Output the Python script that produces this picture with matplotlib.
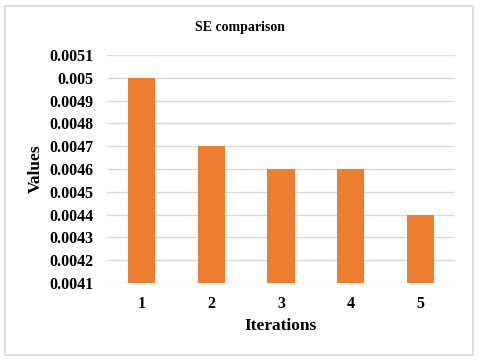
import matplotlib
matplotlib.use("Agg")
import matplotlib.pyplot as plt
from matplotlib.patches import Rectangle
import numpy as np

# data
iterations = ["1", "2", "3", "4", "5"]
se_values = [0.0050, 0.0047, 0.0046, 0.0046, 0.0044]
y_ticks = [0.0041, 0.0042, 0.0043, 0.0044, 0.0045, 0.0046,
           0.0047, 0.0048, 0.0049, 0.005, 0.0051]

plt.rcParams['font.family'] = ['Liberation Serif', 'DejaVu Serif']
plt.rcParams['font.weight'] = 'bold'

fig = plt.figure(figsize=(4.8, 3.61), dpi=100)
ax = fig.add_axes([0.223, 0.216, 0.725, 0.632])

# outer border
fig.patches.append(Rectangle((5 / 480, 6 / 361), 468 / 480, 349 / 361,
                             transform=fig.transFigure, fill=False,
                             edgecolor="#d9d9d9", linewidth=1.2))

x = np.arange(len(iterations))
ax.bar(x, se_values, width=0.39, color="#ED7D31", zorder=3)

ax.set_ylim(0.0041, 0.0051)
ax.set_xlim(-0.5, len(iterations) - 0.5)
ax.set_yticks(y_ticks)
ax.set_yticklabels([f"{v:g}" for v in y_ticks])
ax.set_xticks(x)
ax.set_xticklabels(iterations)
ax.tick_params(axis="both", length=0, labelsize=11.5)
ax.tick_params(axis="y", pad=10)
ax.tick_params(axis="x", pad=9)
for lab in ax.get_xticklabels() + ax.get_yticklabels():
    lab.set_fontweight("bold")

ax.yaxis.grid(True, color="#d9d9d9", linewidth=1, zorder=0)
for s in ax.spines.values():
    s.set_visible(False)

ax.set_xlabel("Iterations", fontsize=12.5, fontweight="bold", labelpad=5)
ax.set_ylabel("Values", fontsize=12.5, fontweight="bold", labelpad=4)
fig.text(0.5, 0.925, "SE comparison", ha="center", va="center",
         fontsize=10, fontweight="bold")

fig.savefig("out.png", dpi=100)
